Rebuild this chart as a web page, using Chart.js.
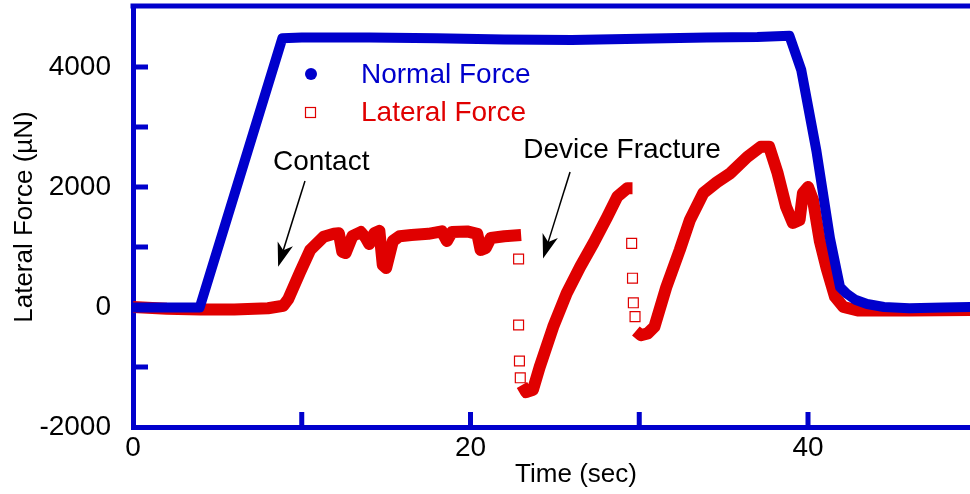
<!DOCTYPE html>
<html>
<head>
<meta charset="utf-8">
<script src="https://cdn.jsdelivr.net/npm/chart.js@4.4.1/dist/chart.umd.min.js"></script>
<style>
  html, body { margin: 0; padding: 0; background: #fff; overflow: hidden; }
  #wrap { width: 970px; height: 494px; }
</style>
</head>
<body>
<div id="wrap"><canvas id="forceChart" width="970" height="494"></canvas></div>
<script>
// Normal force (blue)
const normalTime = [0, 2, 3.95, 8.85, 10, 14, 18, 22, 26, 30, 34, 37, 38.9, 39.6, 40.5, 41.3, 41.9, 42.3, 42.8, 43.5, 44.5, 46, 48, 49.6];
const normalForce = [-10, -10, -10, 4480, 4490, 4490, 4480, 4460, 4450, 4470, 4490, 4500, 4520, 3950, 2600, 1150, 330, 220, 120, 50, 0, -20, -10, 0];

// Lateral force (red), null = break in the trace
const lateralTime = [0, 2, 4, 6, 8, 8.9, 9.2, 9.9, 10.5, 11.3, 11.9, 12.2, 12.4, 12.6, 13.0, 13.5, 13.8, 14.0, 14.3, 14.6, 14.8, 15.0, 15.4, 15.8, 16.5, 17.5, 18.3, 18.6, 18.9, 19.8, 20.4, 20.6, 20.9, 21.2, 22.0, 23.0,
  23.02,
  23.05, 23.3, 23.7, 24.1, 24.9, 25.7, 26.5, 27.3, 28.1, 28.7, 29.3, 29.6,
  29.7,
  29.8, 30.1, 30.5, 30.9, 31.6, 32.4, 33.0, 33.8, 34.6, 35.4, 36.4, 37.2, 37.7, 38.2, 38.7, 39.1, 39.5, 39.7, 40.0, 40.3, 40.7, 41.1, 41.6, 42.1, 43.0, 46, 49.6];
const lateralForce = [0, -30, -40, -40, -20, 20, 130, 580, 950, 1170, 1220, 1230, 920, 900, 1180, 1250, 1150, 1050, 1230, 1270, 700, 650, 1100, 1180, 1200, 1220, 1260, 1100, 1250, 1260, 1220, 950, 980, 1150, 1180, 1200,
  null,
  -1300, -1420, -1380, -1000, -330, 230, 670, 1070, 1500, 1840, 1980, 1980,
  null,
  -400, -470, -440, -330, 330, 950, 1450, 1900, 2080, 2230, 2500, 2670, 2670, 2230, 1670, 1400, 1450, 1900, 2000, 1780, 1100, 650, 170, 0, -60, -60, -50];

// isolated lateral points during the fractures
const jumpTime = [22.85, 22.85, 22.9, 22.95, 29.55, 29.6, 29.65, 29.75];
const jumpForce = [800, -300, -900, -1180, 1060, 480, 70, -160];

const xTicks = [10, 20, 30, 40];
const yTicks = [-1000, 0, 1000, 2000, 3000, 4000];

const BLUE = "#0000cc";
const RED = "#e00000";
const FONT = '"Liberation Sans", Arial, Helvetica, sans-serif';

Chart.defaults.font.family = FONT;
Chart.defaults.color = "#000";

function toPoints(xs, ys) {
  return xs.map((x, i) => ({ x: x, y: ys[i] }));
}

function drawArrow(ctx, x1, y1, x2, y2) {
  const ang = Math.atan2(y2 - y1, x2 - x1);
  const len = 24, half = 8;
  ctx.save();
  ctx.strokeStyle = "#000";
  ctx.fillStyle = "#000";
  ctx.lineWidth = 1.5;
  ctx.beginPath();
  ctx.moveTo(x1, y1);
  ctx.lineTo(x2 - Math.cos(ang) * len * 0.7, y2 - Math.sin(ang) * len * 0.7);
  ctx.stroke();
  ctx.translate(x2, y2);
  ctx.rotate(ang);
  ctx.beginPath();
  ctx.moveTo(0, 0);
  ctx.lineTo(-len, -half);
  ctx.lineTo(-len * 0.72, 0);
  ctx.lineTo(-len, half);
  ctx.closePath();
  ctx.fill();
  ctx.restore();
}

// frame, inward ticks, legend, notes
const decorations = {
  id: "decorations",
  afterDraw(chart) {
    const { ctx, chartArea: a, scales } = chart;
    const xs = scales.x, ys = scales.y;
    ctx.save();
    ctx.strokeStyle = BLUE;
    ctx.lineWidth = 5;
    ctx.beginPath();
    ctx.moveTo(a.left - 2.5, a.top - 1);
    ctx.lineTo(a.right, a.top - 1);
    ctx.stroke();
    ctx.beginPath();
    yTicks.forEach(v => {
      const py = ys.getPixelForValue(v);
      ctx.moveTo(a.left, py);
      ctx.lineTo(a.left + 15, py);
    });
    xTicks.forEach(v => {
      const px = xs.getPixelForValue(v);
      ctx.moveTo(px, a.bottom);
      ctx.lineTo(px, a.bottom - 15);
    });
    ctx.stroke();

    // legend
    ctx.fillStyle = BLUE;
    ctx.beginPath();
    ctx.arc(311, 74, 6, 0, Math.PI * 2);
    ctx.fill();
    ctx.strokeStyle = RED;
    ctx.lineWidth = 1.2;
    ctx.strokeRect(305.5, 107.5, 10, 10);
    ctx.font = "28px " + FONT;
    ctx.textBaseline = "middle";
    ctx.textAlign = "left";
    ctx.fillText("Normal Force", 361, 75);
    ctx.fillStyle = RED;
    ctx.fillText("Lateral Force", 361, 113);

    // annotations
    ctx.fillStyle = "#000";
    ctx.textAlign = "center";
    ctx.fillText("Contact", xs.getPixelForValue(11.15), ys.getPixelForValue(2420));
    ctx.fillText("Device Fracture", xs.getPixelForValue(28.98), ys.getPixelForValue(2620));
    drawArrow(ctx, xs.getPixelForValue(10.19), ys.getPixelForValue(2100), xs.getPixelForValue(8.6), ys.getPixelForValue(670));
    drawArrow(ctx, xs.getPixelForValue(25.9), ys.getPixelForValue(2250), xs.getPixelForValue(24.3), ys.getPixelForValue(810));

    // x axis title
    ctx.font = "26px " + FONT;
    ctx.fillText("Time (sec)", 576, 475);
    ctx.restore();
  }
};

const ctx = document.getElementById("forceChart").getContext("2d");
const forceChart = new Chart(ctx, {
  type: "scatter",
  data: {
    datasets: [
      {
        label: "Normal Force",
        data: toPoints(normalTime, normalForce),
        showLine: true,
        borderColor: BLUE,
        borderWidth: 10,
        borderJoinStyle: "round",
        borderCapStyle: "round",
        pointRadius: 0,
        order: 0,
      },
      {
        label: "Lateral Force",
        data: toPoints(lateralTime, lateralForce),
        showLine: true,
        spanGaps: false,
        borderColor: RED,
        borderWidth: 12,
        borderJoinStyle: "round",
        pointRadius: 0,
        order: 1,
      },
      {
        label: "Lateral Force (fracture)",
        data: toPoints(jumpTime, jumpForce),
        showLine: false,
        pointStyle: "rect",
        pointRadius: 7,
        pointBorderWidth: 1.2,
        pointBorderColor: RED,
        pointBackgroundColor: "rgba(0,0,0,0)",
        order: 2,
      },
    ],
  },
  options: {
    responsive: false,
    animation: false,
    layout: { autoPadding: false, padding: { top: 7, right: 0, bottom: 0, left: 0 } },
    plugins: {
      legend: { display: false },
      title: { display: false },
      tooltip: { enabled: false },
    },
    scales: {
      x: {
        type: "linear",
        min: 0,
        max: 49.6,
        grid: { display: true, drawOnChartArea: false, drawTicks: false },
        border: { color: BLUE, width: 5 },
        ticks: {
          stepSize: 10,
          autoSkip: false,
          maxRotation: 0,
          padding: 4,
          font: { size: 28 },
          callback: v => (v % 20 === 0 ? String(v) : null),
        },
        afterFit: s => {
          s.height = 67;
          s.paddingLeft = 0;
          s.paddingRight = 0;
        },
      },
      y: {
        min: -2000,
        max: 5000,
        grid: { display: true, drawOnChartArea: false, drawTicks: false },
        border: { color: BLUE, width: 5 },
        ticks: {
          stepSize: 1000,
          padding: 22,
          font: { size: 28 },
          callback: v => (v % 2000 === 0 ? String(v) : null),
        },
        title: {
          display: true,
          text: "Lateral Force (\u00b5N)",
          font: { size: 26 },
          padding: { top: 9, bottom: 0 },
        },
        afterFit: s => {
          s.width = 133;
          s.paddingTop = 0;
          s.paddingBottom = 0;
        },
      },
    },
  },
  plugins: [decorations],
});
</script>
</body>
</html>
